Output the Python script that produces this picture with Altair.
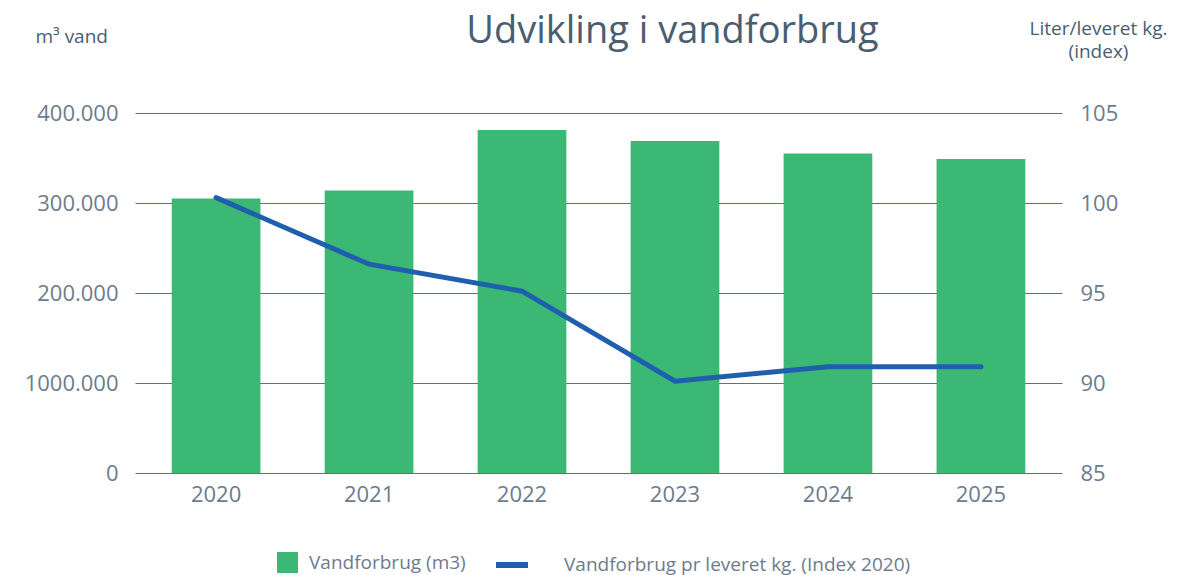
import altair as alt
import pandas as pd

years = ["2020", "2021", "2022", "2023", "2024", "2025"]
water_m3 = [305000, 314000, 381000, 369000, 355000, 349000]
index_per_kg = [100.3, 96.6, 95.1, 90.1, 90.9, 90.9]

left_ticks = [0, 100000, 200000, 300000, 400000]
left_tick_labels = ["0", "1000.000", "200.000", "300.000", "400.000"]
right_ticks = [85, 90, 95, 100, 105]

bar_series = "Vandforbrug (m3)"
line_series = "Vandforbrug pr leveret kg. (Index 2020)"
title_text = "Udvikling i vandforbrug"
left_title = "m\u00b3 vand"
right_title = ["Liter/leveret kg.", "(index)"]

df = pd.DataFrame({"year": years, "water": water_m3, "idx": index_per_kg})

FONT = "Open Sans"
LABEL_C = "#6d7b8d"
TITLE_C = "#4b5d71"
GRID_C = "#5b7089"
GREEN = "#3bb873"
BLUE = "#1f5fae"

label_expr = " : ".join(
    f"datum.value == {v} ? '{l}'" for v, l in zip(left_ticks, left_tick_labels)
) + " : ''"

x_enc = alt.X(
    "year:O",
    sort=years,
    scale=alt.Scale(paddingInner=0.42, paddingOuter=0.24),
    axis=alt.Axis(
        title=None, labelAngle=0, domain=False, ticks=False, tickSize=0,
        labelPadding=11, labelFontSize=22, labelColor=LABEL_C, labelFont=FONT,
    ),
)

bars = alt.Chart(df).mark_bar(color=GREEN).encode(
    x=x_enc,
    y=alt.Y(
        "water:Q",
        scale=alt.Scale(domain=[0, 400000], nice=False),
        axis=alt.Axis(
            values=left_ticks, labelExpr=label_expr, domain=False, ticks=False,
            tickSize=0, labelPadding=17, labelFontSize=22, labelColor=LABEL_C,
            labelFont=FONT, grid=True, gridColor=GRID_C, gridWidth=1,
            title=left_title, titleAngle=0, titleX=-100, titleY=-86,
            titleAlign="left", titleBaseline="top", titleFontSize=19,
            titleFontWeight="normal", titleColor=TITLE_C, titleFont=FONT,
        ),
    ),
    color=alt.Color(
        "s:N",
        scale=alt.Scale(domain=[bar_series], range=[GREEN]),
        legend=alt.Legend(
            title=None, orient="none", legendX=142, legendY=439,
            symbolType="square", symbolSize=441, symbolStrokeWidth=0,
            labelFontSize=19, labelColor=LABEL_C, labelFont=FONT,
            labelOffset=11, labelLimit=0, padding=0,
        ),
    ),
).transform_calculate(s=f"'{bar_series}'")

line = alt.Chart(df).mark_line(strokeWidth=5, strokeCap="round").encode(
    x=alt.X("year:O", sort=years),
    y=alt.Y(
        "idx:Q",
        scale=alt.Scale(domain=[85, 105], nice=False, zero=False),
        axis=alt.Axis(
            orient="right", values=right_ticks, domain=False, ticks=False,
            tickSize=0, labelPadding=18, labelFontSize=22, labelColor=LABEL_C,
            labelFont=FONT, grid=False,
            title=right_title, titleAngle=0, titleX=36, titleY=-94,
            titleAlign="center", titleBaseline="top", titleFontSize=19,
            titleLineHeight=23, titleFontWeight="normal", titleColor=TITLE_C,
            titleFont=FONT,
        ),
    ),
    stroke=alt.Stroke(
        "s:N",
        scale=alt.Scale(domain=[line_series], range=[BLUE]),
        legend=alt.Legend(
            title=None, orient="none", legendX=358, legendY=433,
            symbolType="stroke", symbolSize=1024, symbolStrokeWidth=6,
            labelFontSize=19, labelColor=LABEL_C, labelFont=FONT,
            labelOffset=33, labelLimit=0, padding=0,
        ),
    ),
).transform_calculate(s=f"'{line_series}'")

chart = (
    alt.layer(bars, line)
    .resolve_scale(y="independent")
    .properties(
        width=927,
        height=360,
        autosize=alt.AutoSizeParams(type="none"),
        padding={"left": 127, "top": 105, "right": 128, "bottom": 102},
        title=alt.TitleParams(
            title_text, fontSize=38, font=FONT, fontWeight="normal",
            color=TITLE_C, anchor="middle", dx=74, dy=32, offset=0,
        ),
    )
    .configure_view(stroke=None)
)

chart.save("out.html", embed_options={"renderer": "svg", "actions": False})
